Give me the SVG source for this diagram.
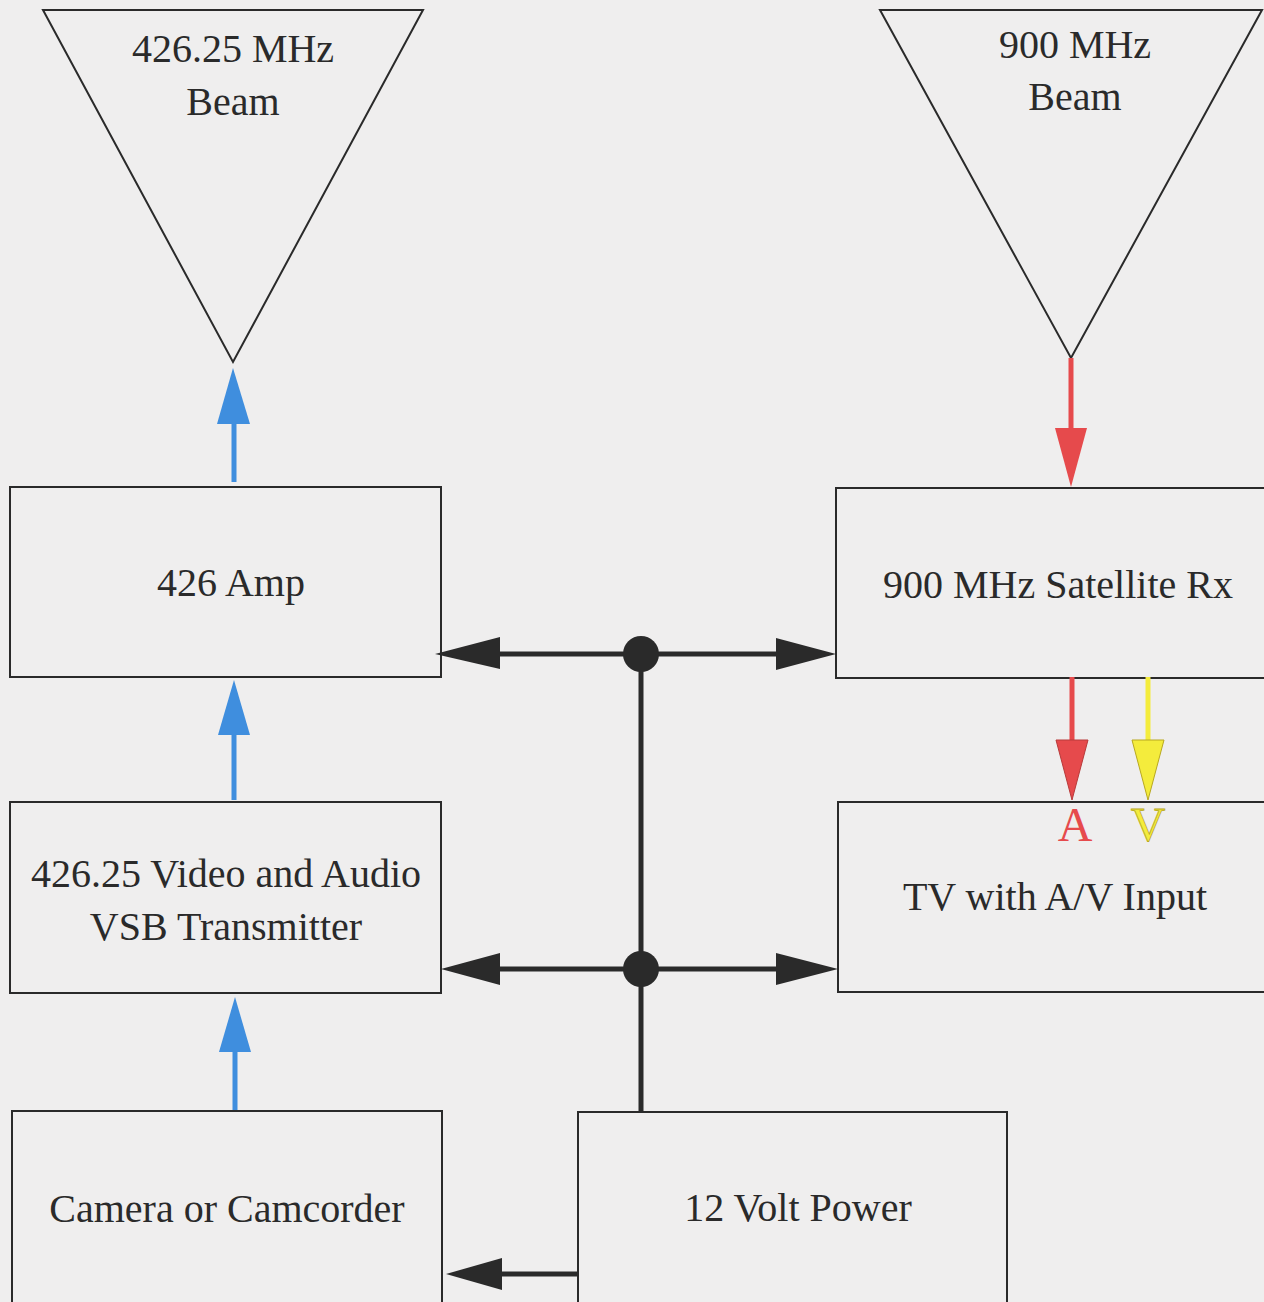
<svg xmlns="http://www.w3.org/2000/svg" width="1264" height="1302" viewBox="0 0 1264 1302">
<style>
.box{fill:none;stroke:#2a2a2a;stroke-width:2}
.t{font-family:"Liberation Serif","Times New Roman",serif;font-size:40px;fill:#2a2a2a;text-anchor:middle}
.bus{stroke:#2a2a2a;stroke-width:5;fill:none}
.blue{stroke:#3f8ede;stroke-width:5}
.red{stroke:#e64a4c;stroke-width:5}
.yel{stroke:#f4ec3c;stroke-width:5}
</style>
<rect width="1264" height="1302" fill="#efeeee"/>
<g id="ant426">
<polygon class="box" points="43,10 423,10 233,362"/>
<text class="t" x="233" y="62">426.25 MHz</text>
<text class="t" x="233" y="115">Beam</text>
</g>
<g id="ant900">
<polygon class="box" points="880,10 1262,10 1071,358"/>
<text class="t" x="1075" y="58">900 MHz</text>
<text class="t" x="1075" y="110">Beam</text>
</g>
<g id="amp">
<rect class="box" x="10" y="487" width="431" height="190"/>
<text class="t" x="231" y="596">426 Amp</text>
</g>
<g id="rx">
<rect class="box" x="836" y="488" width="430" height="190"/>
<text class="t" x="1058" y="598">900 MHz Satellite Rx</text>
</g>
<g id="tx">
<rect class="box" x="10" y="802" width="431" height="191"/>
<text class="t" x="226" y="887">426.25 Video and Audio</text>
<text class="t" x="226" y="940">VSB Transmitter</text>
</g>
<g id="tv">
<rect class="box" x="838" y="802" width="428" height="190"/>
<text class="t" x="1055" y="910">TV with A/V Input</text>
<text x="1075" y="841" style="font-family:'Liberation Serif',serif;font-size:48px;fill:#e64a4c;text-anchor:middle">A</text>
<text x="1148" y="841" style="font-family:'Liberation Serif',serif;font-size:48px;fill:#f4ec3c;stroke:#b8a820;stroke-width:0.8;text-anchor:middle">V</text>
</g>
<g id="camera">
<rect class="box" x="12" y="1111" width="430" height="193"/>
<text class="t" x="227" y="1222">Camera or Camcorder</text>
</g>
<g id="power">
<rect class="box" x="578" y="1112" width="429" height="192"/>
<text class="t" x="798" y="1221">12 Volt Power</text>
</g>
<g id="connectors">
<line class="blue" x1="234" y1="482" x2="234" y2="420"/>
<polygon fill="#3f8ede" points="233,368 217,424 250,424"/>
<line class="blue" x1="234" y1="800" x2="234" y2="730"/>
<polygon fill="#3f8ede" points="234,680 218,735 250,735"/>
<line class="blue" x1="235" y1="1110" x2="235" y2="1048"/>
<polygon fill="#3f8ede" points="235,997 219,1052 251,1052"/>
<line class="red" x1="1071" y1="358" x2="1071" y2="432"/>
<polygon fill="#e64a4c" points="1055,428 1087,428 1071,487"/>
<line class="red" x1="1072" y1="677" x2="1072" y2="744"/>
<polygon fill="#e64a4c" stroke="#b83a3a" stroke-width="1" points="1056,740 1088,740 1072,800"/>
<line class="yel" x1="1148" y1="677" x2="1148" y2="744"/>
<polygon fill="#f4ec3c" stroke="#b8a820" stroke-width="1" points="1132,740 1164,740 1148,800"/>
<line class="bus" x1="495" y1="654" x2="780" y2="654"/>
<polygon fill="#2a2a2a" points="435,654 500,637 500,669"/>
<polygon fill="#2a2a2a" points="836,654 776,638 776,670"/>
<circle cx="641" cy="654" r="18" fill="#2a2a2a"/>
<line class="bus" x1="495" y1="969" x2="780" y2="969"/>
<polygon fill="#2a2a2a" points="441,969 500,953 500,985"/>
<polygon fill="#2a2a2a" points="838,969 776,953 776,985"/>
<circle cx="641" cy="969" r="18" fill="#2a2a2a"/>
<line class="bus" x1="641" y1="654" x2="641" y2="1112"/>
<line class="bus" x1="578" y1="1274" x2="498" y2="1274"/>
<polygon fill="#2a2a2a" points="446,1274 502,1258 502,1290"/>
</g>
</svg>
